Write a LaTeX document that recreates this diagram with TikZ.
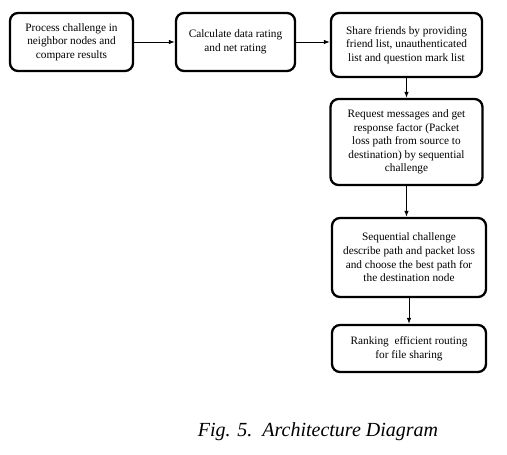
\documentclass[tikz,border=0pt]{standalone}
\usepackage{fontspec}
\setmainfont{Liberation Serif}
\usetikzlibrary{arrows.meta}
\begin{document}
\begin{tikzpicture}[x=1pt,y=-1pt,
  box/.style={draw, line width=2.3pt, rounded corners=8pt, align=center, inner sep=2pt,
    font=\fontsize{11.3}{13.6}\selectfont},
  arr/.style={-{Latex[length=6pt,width=4.5pt]}, line width=0.9pt}]
\useasboundingbox (0,0) rectangle (507,455);
\node[box, minimum width=123pt, minimum height=58pt] (b1) at (71.5,42) {Process challenge in\\neighbor nodes and\\compare results};
\node[box, minimum width=119pt, minimum height=58pt] (b2) at (235.5,42) {Calculate data rating\\and net rating};
\node[box, minimum width=151pt, minimum height=64pt] (b3) at (406.5,45) {Share friends by providing\\friend list, unauthenticated\\list and question mark list};
\node[box, minimum width=152pt, minimum height=86pt] (b4) at (406.5,142) {Request messages and get\\response factor (Packet\\loss path from source to\\destination) by sequential\\challenge};
\node[box, minimum width=154pt, minimum height=79pt] (b5) at (409,257.5) {Sequential challenge\\describe path and packet loss\\and choose the best path for\\the destination node};
\node[box, minimum width=154pt, minimum height=47pt] (b6) at (409,348.5) {Ranking\ \ efficient routing\\for file sharing};
\node[font=\fontsize{20}{22}\selectfont\itshape] (cap) at (318,432) {Fig. 5.\ \ Architecture Diagram};
\draw[arr] (b1.east) -- (b2.west);
\draw[arr] (b2.east) -- (b2.east -| b3.west);
\draw[arr] (b3.south) -- (b3.south |- b4.north);
\draw[arr] (b4.south) -- (b4.south |- b5.north);
\draw[arr] (b5.south) -- (b6.north);
\end{tikzpicture}
\end{document}
